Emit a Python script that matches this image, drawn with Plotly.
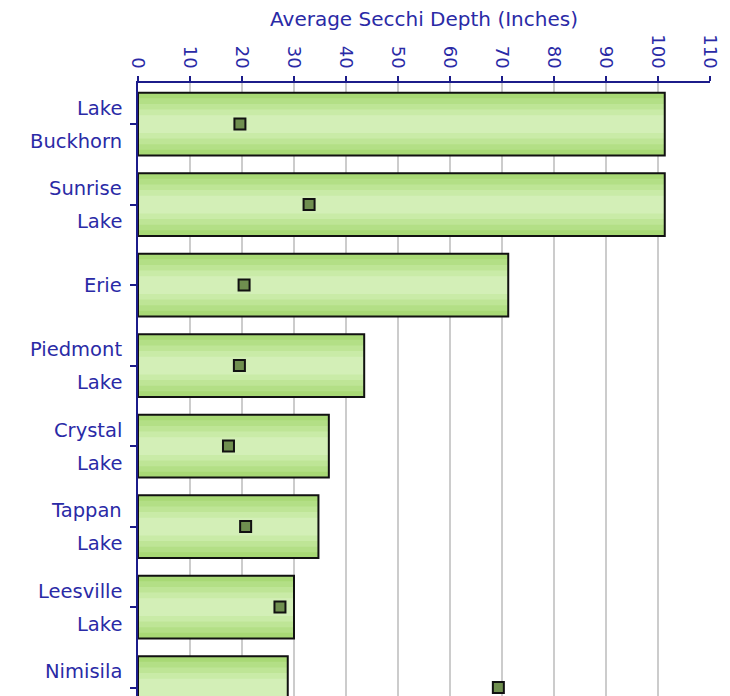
import plotly.graph_objects as go

lakes = ["Lake<br>Buckhorn", "Sunrise<br>Lake", "Erie", "Piedmont<br>Lake", "Crystal<br>Lake",
         "Tappan<br>Lake", "Leesville<br>Lake", "Nimisila<br>Reservoir"]
max_depth = [101.3, 101.3, 71.2, 43.5, 36.7, 34.7, 30.0, 28.8]
avg_depth = [19.6, 32.9, 20.4, 19.5, 17.4, 20.7, 27.3, 69.3]
x_ticks = [0, 10, 20, 30, 40, 50, 60, 70, 80, 90, 100, 110]

TEXT = "#2a2aa6"
AXIS = "#1c1c8a"
FONT = "DejaVu Sans"
LABEL_SIZE = 19.5

fig = go.Figure()

# layered bars to imitate the horizontal gradient band
layers = [(0.78, "#a8d975"), (0.64, "#b3df86"), (0.50, "#bee596"),
          (0.36, "#c9eba7"), (0.22, "#d3efb7")]
for w, c in layers:
    fig.add_trace(go.Bar(y=lakes, x=max_depth, orientation="h", width=w,
                         marker=dict(color=c, line=dict(width=0)),
                         hoverinfo="skip", showlegend=False))
# outline on top
fig.add_trace(go.Bar(y=lakes, x=max_depth, orientation="h", width=0.78,
                     marker=dict(color="rgba(0,0,0,0)", line=dict(color="#111111", width=2)),
                     name="Max Depth", showlegend=False))

fig.add_trace(go.Scatter(y=lakes, x=avg_depth, mode="markers",
                         marker=dict(symbol="square", size=11, color="#6f8f4f",
                                     line=dict(color="#111111", width=2)),
                         name="Average", showlegend=False, cliponaxis=False))

# category labels with wider line spacing than tick labels allow
annotations = []
for lab in lakes:
    parts = lab.split("<br>")
    if len(parts) == 1:
        shifts = [0]
    else:
        shifts = [16, -17]
    for txt, sh in zip(parts, shifts):
        annotations.append(dict(x=0, xref="paper", y=lab, yref="y", text=txt,
                                showarrow=False, xanchor="right", yanchor="middle",
                                xshift=-14, yshift=sh,
                                font=dict(family=FONT, size=LABEL_SIZE, color=TEXT)))

fig.update_layout(
    width=722, height=688,
    margin=dict(l=130, r=20, t=75, b=0, autoexpand=False),
    paper_bgcolor="white", plot_bgcolor="white",
    barmode="overlay",
    font=dict(family=FONT, color=TEXT),
    annotations=annotations,
    title=dict(text="Average Secchi Depth (Inches)", x=0.5, xref="paper", xanchor="center",
               y=1 - 11 / 688, yref="container", yanchor="middle",
               font=dict(family=FONT, size=20, color=TEXT)),
    xaxis=dict(side="top", range=[0, 110], tickvals=x_ticks, ticktext=[str(v) for v in x_ticks],
               tickangle=90, tickfont=dict(family=FONT, size=18, color=TEXT),
               showline=True, linecolor=AXIS, linewidth=2, ticks="outside", ticklen=5,
               tickcolor=AXIS, tickwidth=1.5, showgrid=True, gridcolor="#cccccc", gridwidth=1.5,
               zeroline=False, fixedrange=True, ticklabelstandoff=1),
    yaxis=dict(type="category", categoryorder="array", categoryarray=lakes,
               range=[7.105, -0.51], showticklabels=False,
               showline=True, linecolor=AXIS, linewidth=2, ticks="outside", ticklen=6,
               tickcolor=AXIS, tickwidth=1.5, showgrid=False, zeroline=False,
               fixedrange=True),
)

fig.write_html("out.html")
